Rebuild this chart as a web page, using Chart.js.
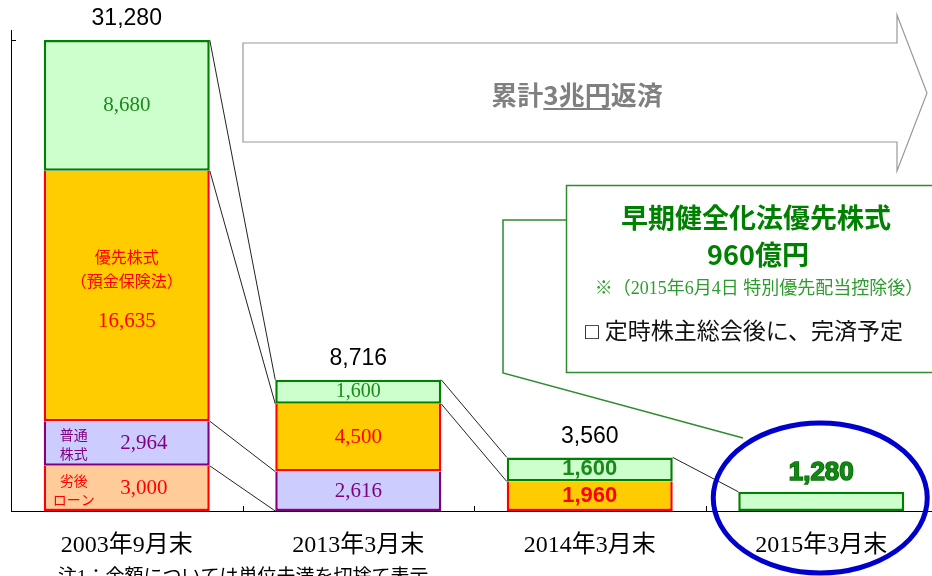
<!DOCTYPE html>
<html lang="ja">
<head>
<meta charset="utf-8">
<script src="https://cdn.jsdelivr.net/npm/chart.js@4"></script>
<style>
  html, body { margin: 0; padding: 0; background: #fff; overflow: hidden; }
  #wrap { position: relative; width: 944px; height: 576px; }
</style>
</head>
<body>
<div id="wrap"><canvas id="repayChart"></canvas></div>
<script>
// 公的資金の残高（億円）
const categories = ["2003年9月末", "2013年3月末", "2014年3月末", "2015年3月末"];
const subLoan = [3000, null, null, null];          // 劣後ローン
const commonStock = [2964, 2616, null, null];      // 普通株式
const dicPreferred = [16635, 4500, 1960, null];    // 優先株式（預金保険法）
const earlyPreferred = [8680, 1600, 1600, 1280];   // 早期健全化法優先株式
const totals = [31280, 8716, 3560, 1280];
const yAxisMax = 31940;
const yTicks = [0, 31280];

// connectors: [from bar, value on left bar, value on next bar]
const links = [
  [0, 31280, 8716], [0, 22600, 7116], [0, 5964, 2616], [0, 3000, 0],
  [1, 8716, 3560], [1, 7116, 1960],
  [2, 3560, 1280]
];

const SERIF = '"Liberation Serif", "Noto Sans CJK JP", serif';
const SANS = '"Liberation Sans", "Noto Sans CJK JP", sans-serif';
const CJK = '"Noto Sans CJK JP", "Liberation Sans", sans-serif';

function txt(ctx, s, x, y, font, color, align) {
  ctx.save();
  ctx.font = font;
  ctx.fillStyle = color;
  ctx.textAlign = align || "center";
  ctx.textBaseline = "middle";
  ctx.fillText(s, x, y);
  ctx.restore();
}

function fmt(v) { return v.toLocaleString("en-US"); }

const decor = {
  id: "decor",
  beforeDatasetsDraw(chart) {
    const ctx = chart.ctx, a = chart.chartArea, ys = chart.scales.y;
    const bars = chart.getDatasetMeta(3).data;
    ctx.save();
    // axis lines
    ctx.strokeStyle = "#000";
    ctx.lineWidth = 1;
    ctx.beginPath();
    ctx.moveTo(a.left + 0.5, a.top);
    ctx.lineTo(a.left + 0.5, a.bottom + 0.5);
    ctx.lineTo(a.right, a.bottom + 0.5);
    ctx.stroke();
    yTicks.forEach(v => {
      const py = Math.round(ys.getPixelForValue(v)) + 0.5;
      ctx.beginPath();
      ctx.moveTo(a.left, py);
      ctx.lineTo(a.left + 5, py);
      ctx.stroke();
    });
    const step = (a.right - a.left) / categories.length;
    for (let i = 1; i < categories.length; i++) {
      const px = Math.round(a.left + step * i) + 0.5;
      ctx.beginPath();
      ctx.moveTo(px, a.bottom);
      ctx.lineTo(px, a.bottom - 5);
      ctx.stroke();
    }
    // connectors between bars
    ctx.strokeStyle = "#222";
    links.forEach(([i, v0, v1]) => {
      const b0 = bars[i], b1 = bars[i + 1];
      ctx.beginPath();
      ctx.moveTo(b0.x + b0.width / 2, ys.getPixelForValue(v0));
      ctx.lineTo(b1.x - b1.width / 2, ys.getPixelForValue(v1));
      ctx.stroke();
    });

    // big arrow
    ctx.strokeStyle = "#999";
    ctx.fillStyle = "#fff";
    ctx.lineWidth = 1.2;
    ctx.beginPath();
    ctx.moveTo(243, 43);
    ctx.lineTo(897, 43);
    ctx.lineTo(897, 15);
    ctx.lineTo(927, 93);
    ctx.lineTo(897, 171);
    ctx.lineTo(897, 142);
    ctx.lineTo(243, 142);
    ctx.closePath();
    ctx.fill();
    ctx.stroke();
    ctx.font = "bold 26px " + CJK;
    ctx.fillStyle = "#808080";
    ctx.textBaseline = "middle";
    ctx.textAlign = "left";
    const p1 = "累計", p2 = "3兆円", p3 = "返済";
    const w1 = ctx.measureText(p1).width, w2 = ctx.measureText(p2).width, w3 = ctx.measureText(p3).width;
    let sx = 577 - (w1 + w2 + w3) / 2;
    ctx.fillText(p1, sx, 95);
    ctx.fillText(p2, sx + w1, 95);
    ctx.fillText(p3, sx + w1 + w2, 95);
    ctx.fillRect(sx + w1, 108, w2, 2);

    // callout box
    ctx.strokeStyle = "#2e8b2e";
    ctx.lineWidth = 1.5;
    ctx.fillStyle = "#fff";
    ctx.beginPath();
    ctx.rect(566.5, 185.5, 400, 187);
    ctx.fill();
    ctx.stroke();
    ctx.beginPath();
    ctx.moveTo(566, 220);
    ctx.lineTo(503, 220);
    ctx.lineTo(503, 373);
    ctx.lineTo(743, 438);
    ctx.stroke();
    ctx.restore();

    txt(ctx, "早期健全化法優先株式", 756, 218, "bold 27px " + CJK, "#008000");
    txt(ctx, "960億円", 758, 255, "bold 27px " + CJK, "#008000");
    txt(ctx, "※（2015年6月4日 特別優先配当控除後）", 759, 289, "18px " + SERIF, "#2e9b2e");
    txt(ctx, "□ 定時株主総会後に、完済予定", 585, 333, "23px " + SERIF, "#111", "left");
  },
  afterDatasetsDraw(chart) {
    const ctx = chart.ctx, a = chart.chartArea, ys = chart.scales.y;
    const m = d => chart.getDatasetMeta(d).data;
    const mid = el => (el.y + el.base) / 2;
    const top = m(3);

    // totals above bars
    totals.forEach((v, i) => {
      if (i === 3) return;
      txt(ctx, fmt(v), top[i].x, top[i].y - 21, "23px " + SANS, "#000");
    });
    // bar 1
    let el = m(3)[0];
    txt(ctx, fmt(earlyPreferred[0]), el.x, mid(el), "21px " + SERIF, "#1a8a1a");
    el = m(2)[0];
    txt(ctx, "優先株式", el.x, mid(el) - 39, "16px " + CJK, "#ff0000");
    txt(ctx, "（預金保険法）", el.x, mid(el) - 15, "16px " + CJK, "#ff0000");
    txt(ctx, fmt(dicPreferred[0]), el.x, mid(el) + 26, "21px " + SERIF, "#ff0000");
    el = m(1)[0];
    const lx = el.x - el.width / 2 + 30;
    txt(ctx, "普通", lx, mid(el) - 9, "14px " + CJK, "#800080");
    txt(ctx, "株式", lx, mid(el) + 10, "14px " + CJK, "#800080");
    txt(ctx, fmt(commonStock[0]), el.x + 17, mid(el), "21px " + SERIF, "#800080");
    el = m(0)[0];
    txt(ctx, "劣後", lx, mid(el) - 8, "14px " + CJK, "#ff0000");
    txt(ctx, "ローン", lx, mid(el) + 11, "14px " + CJK, "#ff0000");
    txt(ctx, fmt(subLoan[0]), el.x + 17, mid(el), "21px " + SERIF, "#ff0000");
    // bar 2
    el = m(3)[1];
    txt(ctx, fmt(earlyPreferred[1]), el.x, mid(el), "20px " + SERIF, "#1a8a1a");
    el = m(2)[1];
    txt(ctx, fmt(dicPreferred[1]), el.x, mid(el), "21px " + SERIF, "#ff0000");
    el = m(1)[1];
    txt(ctx, fmt(commonStock[1]), el.x, mid(el), "21px " + SERIF, "#800080");
    // bar 3
    el = m(3)[2];
    txt(ctx, fmt(earlyPreferred[2]), el.x, mid(el), "bold 22px " + SANS, "#1a8a1a");
    el = m(2)[2];
    txt(ctx, fmt(dicPreferred[2]), el.x, mid(el), "bold 22px " + SANS, "#ff0000");
    // bar 4
    el = m(3)[3];
    ctx.save();
    ctx.font = "bold 26px " + SANS;
    ctx.textAlign = "center";
    ctx.textBaseline = "middle";
    ctx.lineWidth = 1.5;
    ctx.strokeStyle = "#0a6a0a";
    ctx.fillStyle = "#118811";
    ctx.strokeText(fmt(totals[3]), el.x, el.y - 19);
    ctx.fillText(fmt(totals[3]), el.x, el.y - 19);
    ctx.restore();

    // category labels + note
    const xs = chart.scales.x;
    categories.forEach((c, i) => {
      txt(ctx, c, xs.getPixelForValue(i), a.bottom + 35, "24px " + SERIF, "#000");
    });
    txt(ctx, "注1：金額については単位未満を切捨て表示", 58, a.bottom + 67, "19px " + SERIF, "#000", "left");

    // highlight ellipse
    ctx.save();
    ctx.strokeStyle = "#0000cc";
    ctx.lineWidth = 5;
    ctx.beginPath();
    ctx.ellipse(top[3].x - 1, a.bottom - 13, 107, 75, 0, 0, Math.PI * 2);
    ctx.stroke();
    ctx.restore();
  }
};

const lowerSkip = "end";
new Chart(document.getElementById("repayChart"), {
  type: "bar",
  data: {
    labels: categories,
    datasets: [
      { label: "劣後ローン", data: subLoan, backgroundColor: "#ffcc99", borderColor: "#ff0000", borderWidth: 2.5, borderSkipped: lowerSkip },
      { label: "普通株式", data: commonStock, backgroundColor: "#ccccff", borderColor: "#800080", borderWidth: 2.5, borderSkipped: lowerSkip },
      { label: "優先株式（預金保険法）", data: dicPreferred, backgroundColor: "#ffcc00", borderColor: "#ff0000", borderWidth: 2.5, borderSkipped: lowerSkip },
      { label: "早期健全化法優先株式", data: earlyPreferred, backgroundColor: "#ccffcc", borderColor: "#008000", borderWidth: 2.5, borderSkipped: false }
    ]
  },
  options: {
    responsive: true,
    maintainAspectRatio: false,
    animation: false,
    layout: { padding: { left: 11, top: 30, right: 7, bottom: 65 } },
    datasets: { bar: { barPercentage: 0.717, categoryPercentage: 1 } },
    plugins: { legend: { display: false }, tooltip: { enabled: false } },
    scales: {
      x: { stacked: true, display: false },
      y: { stacked: true, display: false, min: 0, max: yAxisMax }
    }
  },
  plugins: [decor]
});
</script>
</body>
</html>
